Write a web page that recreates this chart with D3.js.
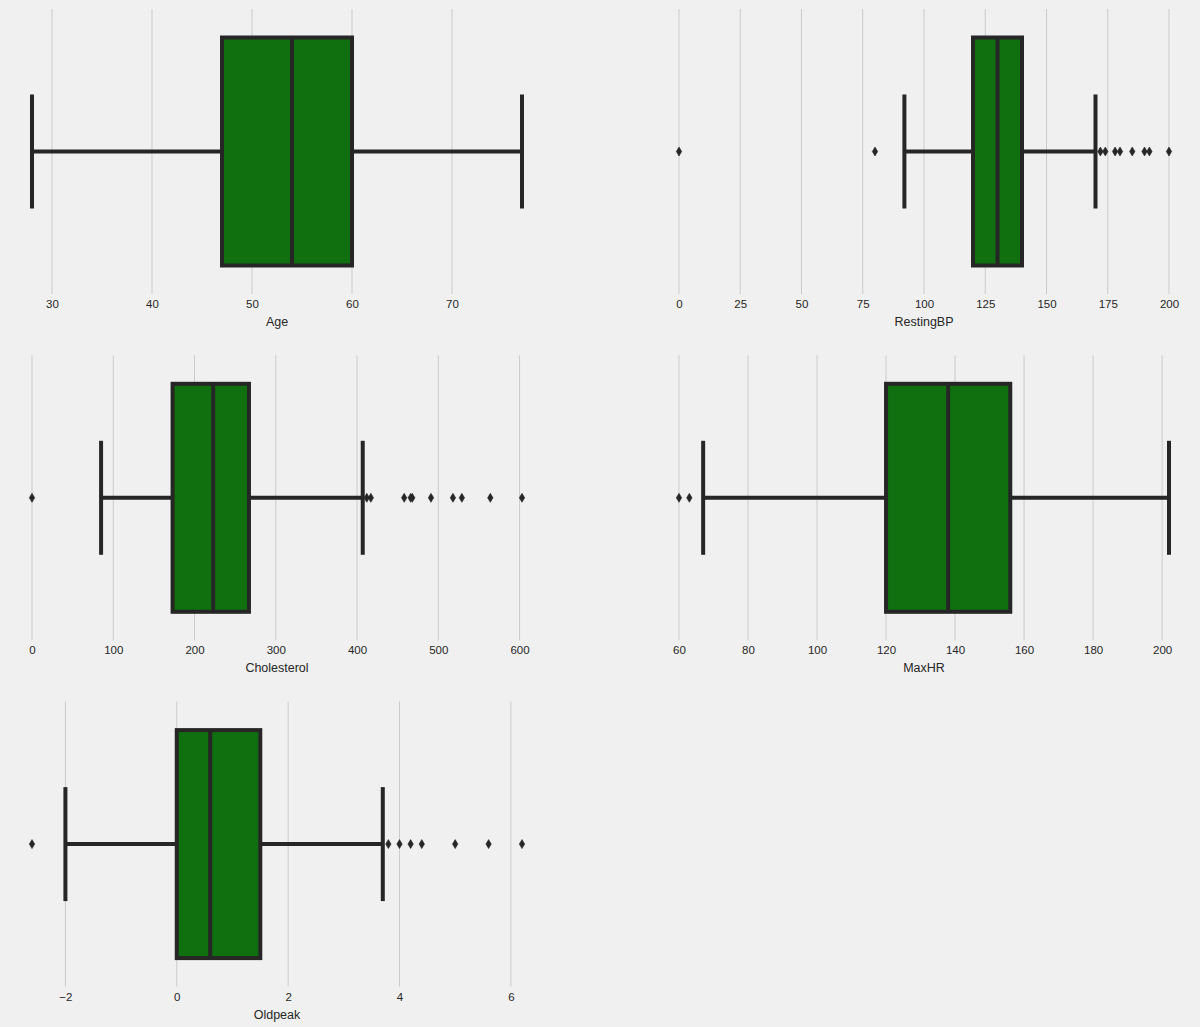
<!DOCTYPE html>
<html>
<head>
<meta charset="utf-8">
<script src="https://cdn.jsdelivr.net/npm/d3@7"></script>
<style>
  html, body { margin: 0; padding: 0; background: #f0f0f0; }
  svg { display: block; }
  text { font-family: "Liberation Sans", Arial, sans-serif; fill: #262626; }
</style>
</head>
<body>
<script>
// ---- data ----
const features   = ["Age", "RestingBP", "Cholesterol", "MaxHR", "Oldpeak"];
const whiskerLo  = [28, 92, 85, 67, -2.0];
const q1         = [47, 120, 173, 120, 0.0];
const median     = [54, 130, 223, 138, 0.6];
const q3         = [60, 140, 267, 156, 1.5];
const whiskerHi  = [77, 170, 407, 202, 3.7];
const outliers   = [
  [],
  [0, 80, 172, 174, 178, 180, 185, 190, 192, 200],
  [0, 412, 417, 458, 466, 468, 491, 518, 529, 564, 603],
  [60, 63],
  [-2.6, 3.8, 4.0, 4.2, 4.4, 5.0, 5.6, 6.2]
];
const tickValues = [
  [30, 40, 50, 60, 70],
  [0, 25, 50, 75, 100, 125, 150, 175, 200],
  [0, 100, 200, 300, 400, 500, 600],
  [60, 80, 100, 120, 140, 160, 180, 200],
  [-2, 0, 2, 4, 6]
];
const tickLabels = [
  ["30", "40", "50", "60", "70"],
  ["0", "25", "50", "75", "100", "125", "150", "175", "200"],
  ["0", "100", "200", "300", "400", "500", "600"],
  ["60", "80", "100", "120", "140", "160", "180", "200"],
  ["\u22122", "0", "2", "4", "6"]
];

// ---- layout ----
const W = 1200, H = 1027;
const colX = [7.5, 654.5];
const axW = 539;
const rowTop0 = 9, rowStep = 346.3, axH = 285;
const fill = "#107010", ink = "#262626", grid = "#cbcbcb";

const svg = d3.select("body").append("svg").attr("width", W).attr("height", H);
svg.append("rect").attr("width", W).attr("height", H).attr("fill", "#f0f0f0");

features.forEach((name, i) => {
  const col = i % 2, row = Math.floor(i / 2);
  const g = svg.append("g")
    .attr("transform", `translate(${colX[col]},${rowTop0 + row * rowStep})`);

  const all = [whiskerLo[i], whiskerHi[i], ...outliers[i]];
  const lo = d3.min(all), hi = d3.max(all), pad = (hi - lo) * 0.05;
  const x = d3.scaleLinear().domain([lo - pad, hi + pad]).range([0, axW]);
  const y = d3.scaleLinear().domain([-0.5, 0.5]).range([0, axH]);

  // grid
  g.selectAll("line.grid").data(tickValues[i]).join("line")
    .attr("class", "grid")
    .attr("x1", d => x(d)).attr("x2", d => x(d))
    .attr("y1", 0).attr("y2", axH)
    .attr("stroke", grid).attr("stroke-width", 1);

  // axis ticks labels
  const axis = d3.axisBottom(x).tickValues(tickValues[i])
    .tickFormat((d, k) => tickLabels[i][k]).tickSize(0).tickPadding(6);
  const ax = g.append("g").attr("transform", `translate(0,${axH})`).call(axis);
  ax.select(".domain").remove();
  ax.selectAll("text").attr("font-size", 11.5).attr("fill", ink)
    .style("font-family", '"Liberation Sans", Arial, sans-serif');

  // x label
  g.append("text").attr("x", axW / 2).attr("y", axH + 32)
    .attr("text-anchor", "middle").attr("font-size", 12.5).text(name);

  const lw = 4;
  const cy = y(0);
  // whiskers
  g.append("line").attr("x1", x(whiskerLo[i])).attr("x2", x(q1[i]))
    .attr("y1", cy).attr("y2", cy).attr("stroke", ink).attr("stroke-width", lw);
  g.append("line").attr("x1", x(q3[i])).attr("x2", x(whiskerHi[i]))
    .attr("y1", cy).attr("y2", cy).attr("stroke", ink).attr("stroke-width", lw);
  // caps
  [whiskerLo[i], whiskerHi[i]].forEach(v => {
    g.append("line").attr("x1", x(v)).attr("x2", x(v))
      .attr("y1", y(-0.2)).attr("y2", y(0.2))
      .attr("stroke", ink).attr("stroke-width", lw);
  });
  // box
  g.append("rect")
    .attr("x", x(q1[i])).attr("width", x(q3[i]) - x(q1[i]))
    .attr("y", y(-0.4)).attr("height", y(0.4) - y(-0.4))
    .attr("fill", fill).attr("stroke", ink).attr("stroke-width", lw);
  // median
  g.append("line").attr("x1", x(median[i])).attr("x2", x(median[i]))
    .attr("y1", y(-0.4)).attr("y2", y(0.4))
    .attr("stroke", ink).attr("stroke-width", lw);
  // fliers (thin diamonds)
  g.selectAll("path.flier").data(outliers[i]).join("path")
    .attr("class", "flier")
    .attr("d", "M0,-4.5L2.7,0L0,4.5L-2.7,0Z")
    .attr("transform", d => `translate(${x(d)},${cy})`)
    .attr("fill", ink).attr("stroke", ink).attr("stroke-width", 0.6);
});
</script>
</body>
</html>
